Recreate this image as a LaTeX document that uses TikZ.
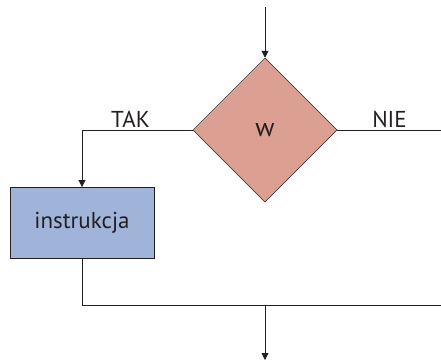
\documentclass[tikz,border=0pt]{standalone}
\usepackage{fontspec}
\setmainfont{PT Sans}
\usetikzlibrary{shapes.geometric,arrows.meta}
\definecolor{ink}{HTML}{231F20}
\definecolor{condfill}{HTML}{DBA091}
\definecolor{stepfill}{HTML}{A0B4DA}
\tikzset{
  flow/.style={draw=ink, line width=0.9pt},
  flowarrow/.style={flow, -{Triangle[width=7pt,length=7pt]}},
  cond/.style={diamond, draw=ink, line width=0.5pt, fill=condfill,
    minimum width=144pt, minimum height=144pt, inner sep=0pt},
  stepbox/.style={rectangle, draw=ink, line width=0.9pt, fill=stepfill,
    minimum width=144pt, minimum height=71pt, inner sep=0pt},
  lbl/.style={text=ink, font=\fontsize{23}{27}\selectfont}
}
\begin{document}
\begin{tikzpicture}[x=1pt, y=-1pt]
  \useasboundingbox (0,0) rectangle (441,362);
  % decision and instruction blocks
  \node[cond, text=ink, font=\fontsize{26}{30}\selectfont] (w) at (265,130) {\raisebox{-3.5pt}{w}};
  \node[stepbox, lbl] (instr) at (82,223) {instrukcja};
  % helper points of the connectors
  \coordinate (start) at (265,7);
  \coordinate (takcorner) at (instr.center |- w.west);
  \coordinate (nieend) at (441,130);
  \coordinate (join) at (instr.center |- 0,305);
  \coordinate (merge) at (w.center |- 0,305);
  \coordinate (joinend) at (441,305);
  \coordinate (finish) at (265,360);
  % connectors
  \draw[flowarrow] (start) -- (w.north);
  \draw[flowarrow] (w.west) -- (takcorner) -- (instr.north);
  \draw[flow] (w.east) -- (nieend);
  \draw[flow] (instr.south) -- (join) -- (joinend);
  \draw[flowarrow] (merge) -- (finish);
  % branch labels
  \node[lbl, anchor=base] (tak) at (130.5,127) {TAK};
  \node[lbl, anchor=base] (nie) at (389.5,127) {NIE};
\end{tikzpicture}
\end{document}
